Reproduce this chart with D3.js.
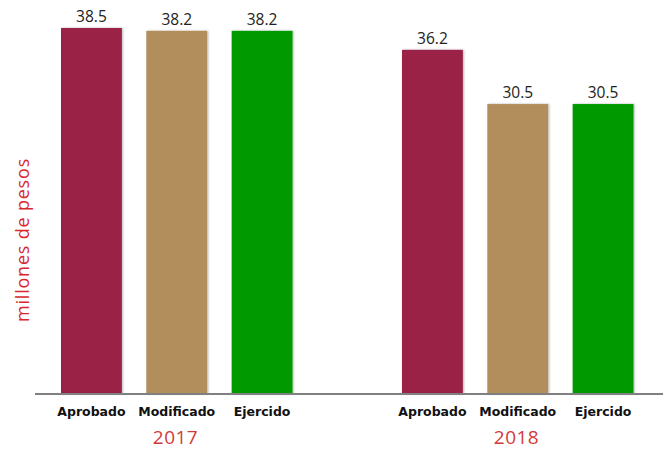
<!DOCTYPE html>
<html>
<head>
<meta charset="utf-8">
<script src="https://cdn.jsdelivr.net/npm/d3@7"></script>
<style>
  body { margin: 0; background: #fff; }
</style>
</head>
<body>
<div id="chart"></div>
<script>
// Data
const years = ["2017", "2018"];
const categories = ["Aprobado", "Modificado", "Ejercido"];
const values2017 = [38.5, 38.2, 38.2];
const values2018 = [36.2, 30.5, 30.5];
const colors = ["#9B2247", "#B38E5D", "#009900"];

const rows = [];
years.forEach((yr, i) => {
    const vals = i === 0 ? values2017 : values2018;
    categories.forEach((c, j) => rows.push({year: yr, cat: c, value: vals[j]}));
});

const width = 664, height = 449;
const baseY = 394;

const svg = d3.select("#chart")
    .append("svg")
    .attr("width", width)
    .attr("height", height);

// shadow for bars
const defs = svg.append("defs");
defs.append("filter")
    .attr("id", "shadow")
    .attr("x", "-10%").attr("y", "-10%")
    .attr("width", "130%").attr("height", "130%")
    .append("feDropShadow")
    .attr("dx", 1).attr("dy", 0)
    .attr("stdDeviation", 1)
    .attr("flood-color", "#000")
    .attr("flood-opacity", 0.3);

// Scales
const x0 = d3.scaleBand()
    .domain(years)
    .range([6, 688]);

const x1 = d3.scaleBand()
    .domain(categories)
    .range([42.75, 298.75])
    .paddingInner(0.287)
    .paddingOuter(0.1435);

const y = d3.scaleLinear()
    .domain([0, 38.5])
    .range([baseY, 28]);

const color = d3.scaleOrdinal().domain(categories).range(colors);

// Bars
svg.append("g")
    .selectAll("rect")
    .data(rows)
    .join("rect")
    .attr("x", d => x0(d.year) + x1(d.cat))
    .attr("y", d => y(d.value))
    .attr("width", x1.bandwidth())
    .attr("height", d => baseY - y(d.value))
    .attr("fill", d => color(d.cat))
    .attr("filter", "url(#shadow)");

// Value labels
svg.append("g")
    .selectAll("text")
    .data(rows)
    .join("text")
    .attr("x", d => x0(d.year) + x1(d.cat) + x1.bandwidth() / 2)
    .attr("y", d => y(d.value) - 6)
    .attr("text-anchor", "middle")
    .style("font-family", "'Open Sans', sans-serif")
    .style("font-size", "15.5px")
    .style("fill", "#222")
    .text(d => d.value.toFixed(1));

// Baseline
svg.append("line")
    .attr("x1", 35).attr("x2", 663)
    .attr("y1", baseY).attr("y2", baseY)
    .attr("stroke", "#808080")
    .attr("stroke-width", 2);

// Category labels
svg.append("g")
    .selectAll("text")
    .data(rows)
    .join("text")
    .attr("x", d => x0(d.year) + x1(d.cat) + x1.bandwidth() / 2)
    .attr("y", 416)
    .attr("text-anchor", "middle")
    .style("font-family", "'DejaVu Sans', sans-serif")
    .style("font-weight", "bold")
    .style("font-size", "12.5px")
    .style("fill", "#111")
    .text(d => d.cat);

// Year labels
svg.append("g")
    .selectAll("text")
    .data(years)
    .join("text")
    .attr("x", d => x0(d) + x0.bandwidth() / 2 - 1)
    .attr("y", 444)
    .attr("text-anchor", "middle")
    .style("font-family", "'Open Sans', sans-serif")
    .style("font-size", "19px")
    .style("letter-spacing", "0.5px")
    .style("fill", "#D13A3A")
    .text(d => d);

// Y label
svg.append("text")
    .attr("transform", `translate(29,240) rotate(-90)`)
    .attr("text-anchor", "middle")
    .style("font-family", "'Open Sans', sans-serif")
    .style("font-size", "18px")
    .style("letter-spacing", "0.8px")
    .style("fill", "#D8282E")
    .text("millones de pesos");
</script>
</body>
</html>
